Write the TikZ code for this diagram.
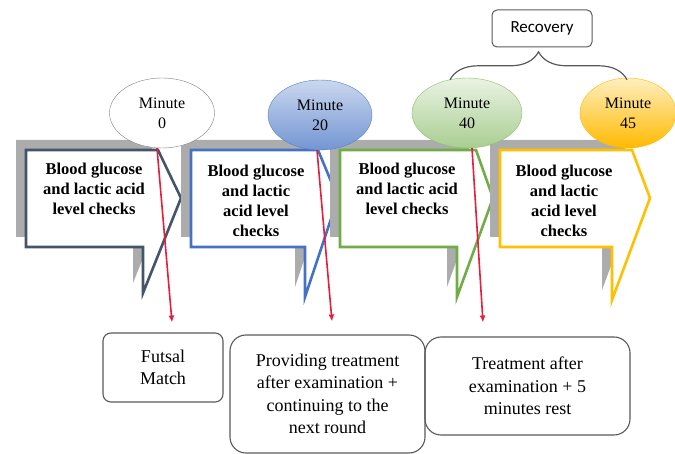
\documentclass[tikz,border=0pt]{standalone}
\usepackage{fontspec}
\setmainfont{Liberation Serif}
\newfontfamily\recfont{Carlito}
\usetikzlibrary{arrows.meta, shapes.geometric, positioning, calc,
                decorations.pathreplacing}
\definecolor{slatecol}{RGB}{68,84,106}
\definecolor{bluecol}{RGB}{68,114,196}
\definecolor{greencol}{RGB}{112,173,71}
\definecolor{goldcol}{RGB}{255,192,0}
\definecolor{shadecol}{RGB}{172,172,172}
\definecolor{arrowred}{RGB}{228,30,60}
\definecolor{framegray}{RGB}{89,89,89}
\tikzset{
  chktext/.style={font=\fontsize{16.5}{20}\selectfont\bfseries, align=center,
                  inner sep=0pt},
  minoval/.style={ellipse, minimum height=70pt, inner sep=0pt, align=center,
                  font=\fontsize{16}{20}\selectfont},
  stepnote/.style={draw=framegray, line width=1.1pt, align=center,
                   font=\fontsize{18}{22.5}\selectfont, inner sep=0pt},
  redarrow/.style={-{Latex[length=7pt,width=6pt]}, arrowred, line width=1.6pt},
}

\begin{document}
\begin{tikzpicture}[x=1pt,y=-1pt]
\useasboundingbox (0,0) rectangle (675,454);

% ── Four callout boxes ───────────────────────────────────────────────────────
\foreach \i/\col/\L/\R/\P/\X/\T/\cx/\cy/\txt in {
    1/slatecol/26/158/181/143/293/94/189/{Blood glucose\\and lactic acid\\level checks},
    2/bluecol/191/318/338/305/297/256/201/{Blood glucose\\and lactic\\acid level\\checks},
    3/greencol/340/476/493/457/297/407/189/{Blood glucose\\and lactic acid\\level checks},
    4/goldcol/500/632/650/612/300/564/201/{Blood glucose\\and lactic\\acid level\\checks}}
{
  % shadow
  \fill[shadecol, shift={(-10,-10)}]
       (\L,150) -- (\R,150) -- (\P,198) -- (\X,\T) -- (\X,247) -- (\L,247) -- cycle;
  % callout
  \draw[\col, line width=2.6pt, fill=white]
       (\L,150) -- (\R,150) -- (\P,198) -- (\X,\T) -- (\X,247) -- (\L,247) -- cycle;
  \node[chktext] (chk\i) at (\cx,\cy) {\txt};
}

% ── Minute ovals ─────────────────────────────────────────────────────────────
\node[minoval, minimum width=105pt, draw=gray, fill=white]
     (min1) at (162,113) {Minute\\0};
\node[minoval, minimum width=104pt, draw=bluecol!90, top color=bluecol!28,
      bottom color=bluecol!75] (min2) at (320,115) {Minute\\20};
\node[minoval, minimum width=110pt, draw=greencol!80, top color=greencol!15,
      bottom color=greencol!60] (min3) at (467,113) {Minute\\40};
\node[minoval, minimum width=96pt, draw=goldcol!90!orange, top color=goldcol!25,
      bottom color=goldcol!90!orange] (min4) at (628,113) {Minute\\45};

% Recovery label with brace
\node[draw=framegray, line width=1pt, rounded corners=5pt, minimum width=100pt,
      minimum height=37pt, font=\recfont\fontsize{17}{20}\selectfont]
     (recov) at (542,28.5) {Recovery};
\draw[framegray, line width=1.2pt, decorate, decoration={brace, amplitude=28pt}]
     ([xshift=-17pt,yshift=-2pt]min3.north) -- ([xshift=-1pt,yshift=-2pt]min4.north);

% ── Outcome boxes ────────────────────────────────────────────────────────────
\node[stepnote, rounded corners=8pt, minimum width=120pt, minimum height=69pt]
     (match) at (163,367.5) {Futsal\\Match};
\node[stepnote, rounded corners=16pt, minimum width=195pt, minimum height=118pt]
     (treat) at (327.5,394) {Providing treatment\\after examination +\\continuing to the\\next round};
\node[stepnote, rounded corners=16pt, minimum width=205pt, minimum height=98pt]
     (rest) at (527.5,386) {Treatment after\\examination + 5\\minutes rest};

% Red arrows
\draw[redarrow] ([xshift=-5pt]min1.south) -- ([xshift=9pt,yshift=10pt]match.north);
\draw[redarrow] ([xshift=-3pt]min2.south) -- ([xshift=4.5pt,yshift=13pt]treat.north);
\draw[redarrow] ([xshift=5pt]min3.south) -- ([xshift=-44.5pt,yshift=14pt]rest.north);

\end{tikzpicture}
\end{document}
